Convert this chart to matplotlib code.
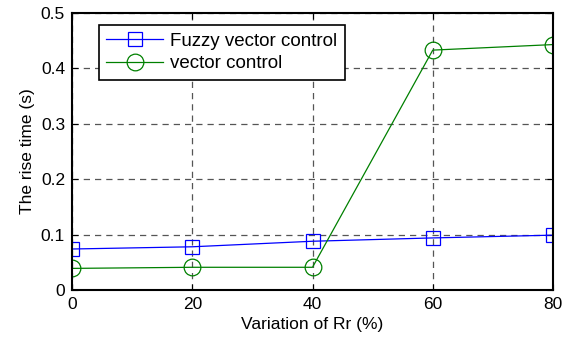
import matplotlib.pyplot as plt

variation = [0, 20, 40, 60, 80]
fuzzy_rise = [0.074, 0.078, 0.088, 0.094, 0.099]
vector_rise = [0.039, 0.041, 0.041, 0.433, 0.443]
x_ticks = [0, 20, 40, 60, 80]
y_ticks = [0, 0.1, 0.2, 0.3, 0.4, 0.5]

plt.rcParams['font.family'] = ['Liberation Sans', 'DejaVu Sans']
plt.rcParams['font.size'] = 12.5

fig = plt.figure(figsize=(5.63, 3.41), dpi=100)
ax = fig.add_axes([72 / 563, 1 - 290 / 341, 481 / 563, 277 / 341])

ax.plot(variation, fuzzy_rise, color='blue', linewidth=0.9, marker='s', markersize=10,
        markerfacecolor='none', markeredgecolor='blue', markeredgewidth=0.9,
        label='Fuzzy vector control')
ax.plot(variation, vector_rise, color='green', linewidth=0.9, marker='o', markersize=12,
        markerfacecolor='none', markeredgecolor='green', markeredgewidth=0.9,
        label='vector control')

ax.set_xlim(0, 80)
ax.set_ylim(0, 0.5)
ax.set_xticks(x_ticks)
ax.set_yticks(y_ticks)
ax.set_yticklabels(['0', '0.1', '0.2', '0.3', '0.4', '0.5'])
ax.tick_params(direction='in', length=4, width=0.8, top=True, right=True, pad=5)
ax.grid(True, color='#555555', linestyle=(0, (5, 4)), linewidth=0.9)
for s in ax.spines.values():
    s.set_linewidth(1.5)

ax.set_xlabel('Variation of Rr (%)', labelpad=4)
ax.set_ylabel('The rise time (s)', labelpad=4)

leg = ax.legend(loc='upper left', bbox_to_anchor=(0.056, 0.957), fancybox=False,
                framealpha=1, edgecolor='black', borderpad=0.4, handlelength=3.0,
                handletextpad=0.4, labelspacing=0.3, borderaxespad=0, fontsize=13.5)
leg.get_frame().set_linewidth(1.2)

fig.savefig('out.png', dpi=100)
